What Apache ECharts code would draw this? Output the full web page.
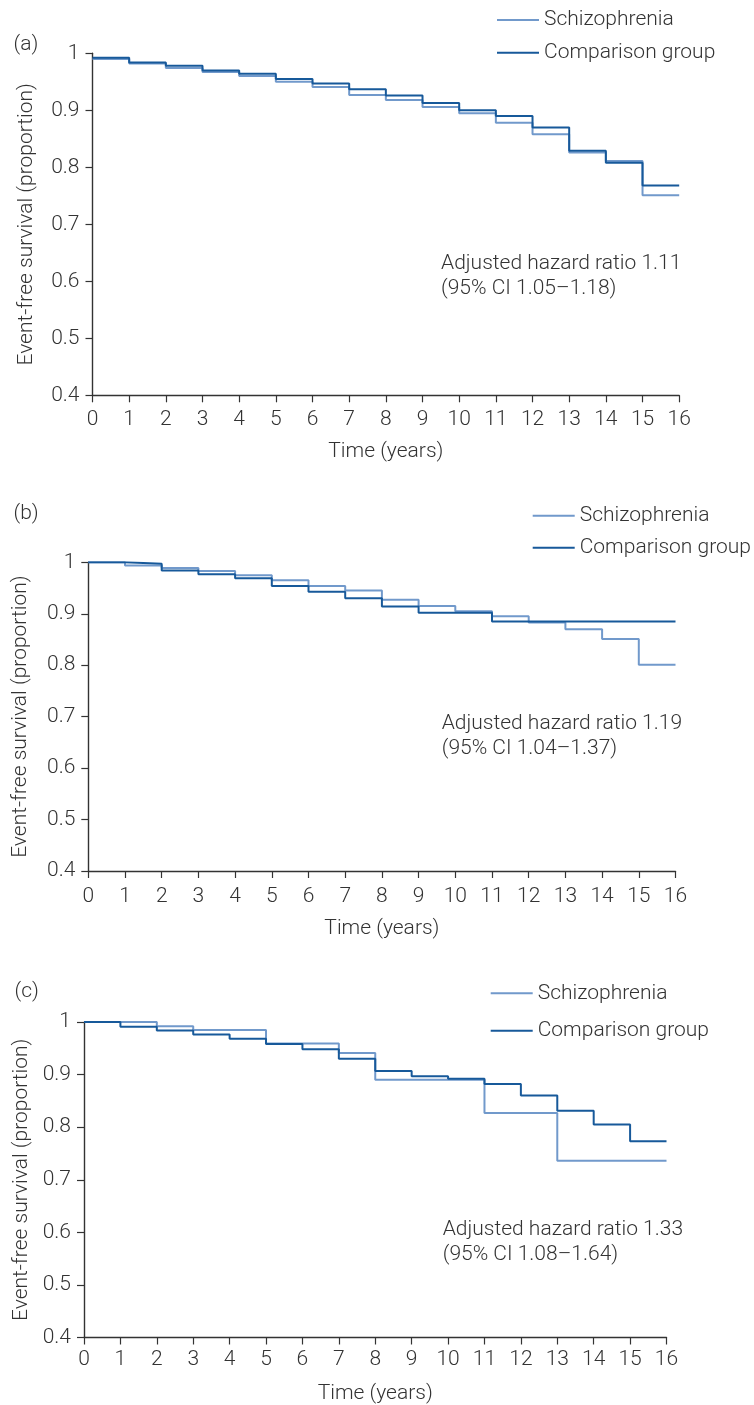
<!DOCTYPE html>
<html>
<head>
<meta charset="utf-8">
<script src="https://cdn.jsdelivr.net/npm/echarts@6/dist/echarts.min.js"></script>
<style>
html,body{margin:0;padding:0;background:#fff;}
#chart{width:754px;height:1405px;}
</style>
</head>
<body>
<div id="chart"></div>
<script>
// ---- data ----
const years = [0,1,2,3,4,5,6,7,8,9,10,11,12,13,14,15,16];
const yTicks = [0.4,0.5,0.6,0.7,0.8,0.9,1];
const seriesNames = ['Schizophrenia','Comparison group'];
const panelLabels = ['(a)','(b)','(c)'];
const hrTexts = [
  'Adjusted hazard ratio 1.11\n(95% CI 1.05\u20131.18)',
  'Adjusted hazard ratio 1.19\n(95% CI 1.04\u20131.37)',
  'Adjusted hazard ratio 1.33\n(95% CI 1.08\u20131.64)'
];
// panel (a)
const aSchiz = [0.990,0.982,0.974,0.967,0.960,0.950,0.941,0.927,0.918,0.906,0.895,0.878,0.858,0.826,0.811,0.751,0.751];
const aComp  = [0.992,0.984,0.978,0.970,0.964,0.955,0.947,0.937,0.926,0.913,0.900,0.890,0.870,0.829,0.808,0.768,0.768];
// panel (b)
const bSchiz = [1.000,0.994,0.989,0.983,0.975,0.965,0.954,0.945,0.927,0.915,0.905,0.895,0.883,0.870,0.851,0.801,0.801];
const bComp  = [1.000,0.997,0.984,0.977,0.969,0.954,0.943,0.930,0.914,0.902,0.902,0.885,0.885,0.885,0.885,0.885,0.885];
// panel (c)
const cSchiz = [1.000,1.000,0.992,0.985,0.985,0.959,0.959,0.941,0.890,0.890,0.890,0.827,0.827,0.736,0.736,0.736,0.736];
const cComp  = [1.000,0.991,0.984,0.976,0.968,0.958,0.948,0.930,0.907,0.897,0.892,0.882,0.860,0.831,0.805,0.773,0.773];

const panels = [[aSchiz,aComp],[bSchiz,bComp],[cSchiz,cComp]];

// ---- layout / style ----
const FONT = 'Roboto, "Open Sans", sans-serif';
const FS = 21;
const FW = 300;
const TXT = '#333333';
const AX = '#333333';
const LIGHT = '#7199cb';
const DARK = '#17599a';

const grids = [
  {left:92.5, right:74.8, top:53.3, height:342},
  {left:88.3, right:78.5, top:562.3, height:308.7},
  {left:84, right:87.5, top:1022, height:317}
];
const legendPos = [
  {left:497, top:9.5, itemGap:11.7},
  {left:532.7, top:505.2, itemGap:11},
  {left:490.7, top:982.8, itemGap:16.4}
];
const labelPos = [{x:13.5,y:46.7},{x:13.5,y:515},{x:14.5,y:993}];
const hrPos = [{x:441,y:250.8},{x:441.7,y:710.8},{x:442.7,y:1217.5}];
const xNameGap = [45.9,46.8,45.5];
const yNameGap = [55.4,57.5,51.8];
const xLabelMargin = [13.5,15.5,12.2];

const xAxes = [], yAxes = [], series = [], legends = [], graphics = [];
panels.forEach((p, k) => {
  xAxes.push({
    type:'value', gridIndex:k, min:0, max:16, interval:1,
    name:'Time (years)', nameLocation:'middle', nameGap:xNameGap[k],
    nameTextStyle:{fontFamily:FONT, fontSize:FS, color:TXT, fontWeight:FW},
    axisLine:{show:true, lineStyle:{color:AX, width:1.4}},
    axisTick:{show:true, length:7, lineStyle:{color:AX, width:1.2}},
    axisLabel:{fontFamily:FONT, fontSize:FS, color:TXT, margin:xLabelMargin[k], fontWeight:FW},
    splitLine:{show:false}
  });
  yAxes.push({
    type:'value', gridIndex:k, min:0.4, max:1, interval:0.1,
    name:'Event-free survival (proportion)', nameLocation:'middle', nameGap:yNameGap[k],
    nameTextStyle:{fontFamily:FONT, fontSize:FS, color:TXT, fontWeight:FW},
    axisLine:{show:true, lineStyle:{color:AX, width:1.4}},
    axisTick:{show:true, length:7, lineStyle:{color:AX, width:1.2}},
    axisLabel:{fontFamily:FONT, fontSize:FS, color:TXT, margin:13, fontWeight:FW,
      formatter:v => String(Math.round(v*10)/10)},
    splitLine:{show:false}
  });
  series.push({
    name:seriesNames[0], type:'line', step:'end', xAxisIndex:k, yAxisIndex:k,
    symbol:'none', color:LIGHT, lineStyle:{color:LIGHT, width:2},
    data: years.map((t,i)=>[t,p[0][i]]), z:2
  });
  series.push({
    name:seriesNames[1], type:'line', step:'end', xAxisIndex:k, yAxisIndex:k,
    symbol:'none', color:DARK, lineStyle:{color:DARK, width:2},
    data: years.map((t,i)=>[t,p[1][i]]), z:3
  });
  legends.push({
    orient:'vertical', left:legendPos[k].left, top:legendPos[k].top,
    itemGap:legendPos[k].itemGap, padding:0,
    icon:'rect', itemWidth:42, itemHeight:2,
    data:seriesNames,
    textStyle:{fontFamily:FONT, fontSize:FS, color:TXT, fontWeight:FW, lineHeight:FS},
    selectedMode:false
  });
  graphics.push({
    type:'text', left:labelPos[k].x, top:labelPos[k].y - 12,
    style:{text:panelLabels[k], font:FW + ' ' + FS + 'px ' + FONT, fill:TXT}
  });
  graphics.push({
    type:'text', left:hrPos[k].x, top:hrPos[k].y,
    style:{text:hrTexts[k], font:FW + ' ' + FS + 'px ' + FONT, fill:TXT, lineHeight:25}
  });
});

const chart = echarts.init(document.getElementById('chart'), null, {renderer:'canvas'});
chart.setOption({
  animation:false,
  backgroundColor:'#fff',
  grid: grids,
  xAxis: xAxes,
  yAxis: yAxes,
  legend: legends,
  series: series,
  graphic: graphics
});
</script>
</body>
</html>
